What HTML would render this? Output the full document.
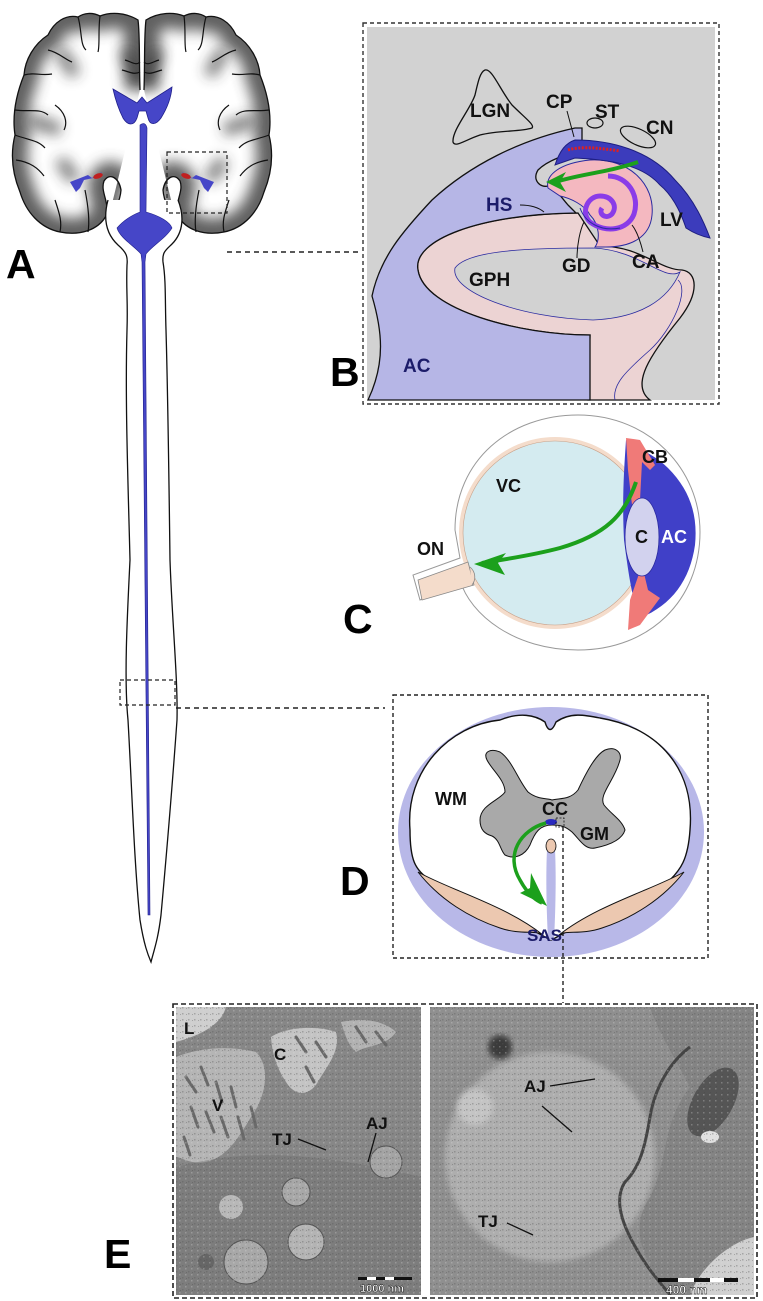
<!DOCTYPE html>
<html><head><meta charset="utf-8"><style>
html,body{margin:0;padding:0;background:#fff;}
svg{display:block;}
text{font-family:"Liberation Sans",Arial,sans-serif;font-weight:bold;}
</style></head><body>
<svg width="763" height="1301" viewBox="0 0 763 1301" xmlns="http://www.w3.org/2000/svg">
<defs>
<filter id="blur8" x="-20%" y="-20%" width="140%" height="140%"><feGaussianBlur stdDeviation="7"/></filter>
<clipPath id="lh"><path d="M140,90 C139,60 140,35 138,20 C125,12 110,12 100,16 C92,12 84,13 78,17 C66,14 54,22 48,35 C34,44 25,60 24,75 C16,95 12,115 15,135 C10,155 13,175 20,192 C26,212 40,228 60,232 C80,236 98,230 106,216 C110,202 100,192 104,181 C110,172 119,178 121,190 C120,204 112,214 108,220 Z"/></clipPath>
<filter id="soft"><feGaussianBlur stdDeviation="3"/></filter>
<pattern id="grain" width="6" height="6" patternUnits="userSpaceOnUse">
<rect x="0" y="0" width="1.5" height="1.5" fill="#555" opacity="0.35"/><rect x="3" y="3" width="1.5" height="1.5" fill="#ddd" opacity="0.3"/><rect x="4" y="1" width="1" height="1" fill="#444" opacity="0.3"/>
</pattern>
</defs>

<!-- ===== Panel A: brain ===== -->
<g id="brain">
  <g>
    <path d="M140,90 C139,60 140,35 138,20 C125,12 110,12 100,16 C92,12 84,13 78,17 C66,14 54,22 48,35 C34,44 25,60 24,75 C16,95 12,115 15,135 C10,155 13,175 20,192 C26,212 40,228 60,232 C80,236 98,230 106,216 C110,202 100,192 104,181 C110,172 119,178 121,190 C120,204 112,214 108,220 Z" fill="#fff"/>
    <g clip-path="url(#lh)"><path d="M140,90 C139,60 140,35 138,20 C125,12 110,12 100,16 C92,12 84,13 78,17 C66,14 54,22 48,35 C34,44 25,60 24,75 C16,95 12,115 15,135 C10,155 13,175 20,192 C26,212 40,228 60,232 C80,236 98,230 106,216 C110,202 100,192 104,181 C110,172 119,178 121,190" fill="none" stroke="#444" stroke-width="30" filter="url(#blur8)" opacity="0.85"/>
    <g stroke="#333" stroke-width="12" filter="url(#blur8)" opacity="0.7"><line x1="60" y1="50" x2="75" y2="75"/><line x1="30" y1="120" x2="60" y2="130"/><line x1="60" y1="160" x2="75" y2="180"/><line x1="125" y1="50" x2="140" y2="80"/></g></g>
    <path d="M140,90 C139,60 140,35 138,20 C125,12 110,12 100,16 C92,12 84,13 78,17 C66,14 54,22 48,35 C34,44 25,60 24,75 C16,95 12,115 15,135 C10,155 13,175 20,192 C26,212 40,228 60,232 C80,236 98,230 106,216 C110,202 100,192 104,181 C110,172 119,178 121,190 C120,204 112,214 108,220" fill="none" stroke="#111" stroke-width="1.3"/>
    <g fill="none" stroke="#111" stroke-width="1.2">
      <path d="M100,16 C98,30 100,45 98,52"/><path d="M78,17 C82,30 80,45 86,50"/>
      <path d="M48,50 C58,52 66,60 72,62"/><path d="M24,75 C35,72 40,76 52,74"/>
      <path d="M15,110 C28,112 40,108 48,115"/><path d="M55,105 C65,112 68,122 64,130"/>
      <path d="M15,135 C28,140 38,140 45,148"/><path d="M16,160 C30,162 38,168 44,176"/>
      <path d="M55,200 C60,215 62,222 60,232"/><path d="M85,190 C88,205 90,220 88,232"/>
      <path d="M125,60 C132,62 136,66 140,62"/><path d="M122,70 C130,72 134,75 140,72"/>
    </g>
  </g>
  <g transform="translate(284,0) scale(-1,1)">
    <path d="M140,90 C139,60 140,35 138,20 C125,12 110,12 100,16 C92,12 84,13 78,17 C66,14 54,22 48,35 C34,44 25,60 24,75 C16,95 12,115 15,135 C10,155 13,175 20,192 C26,212 40,228 60,232 C80,236 98,230 106,216 C110,202 100,192 104,181 C110,172 119,178 121,190 C120,204 112,214 108,220 Z" fill="#fff"/>
    <g clip-path="url(#lh)"><path d="M140,90 C139,60 140,35 138,20 C125,12 110,12 100,16 C92,12 84,13 78,17 C66,14 54,22 48,35 C34,44 25,60 24,75 C16,95 12,115 15,135 C10,155 13,175 20,192 C26,212 40,228 60,232 C80,236 98,230 106,216 C110,202 100,192 104,181 C110,172 119,178 121,190" fill="none" stroke="#444" stroke-width="30" filter="url(#blur8)" opacity="0.85"/>
    <g stroke="#333" stroke-width="12" filter="url(#blur8)" opacity="0.7"><line x1="60" y1="50" x2="75" y2="75"/><line x1="30" y1="120" x2="60" y2="130"/><line x1="60" y1="160" x2="75" y2="180"/><line x1="125" y1="50" x2="140" y2="80"/></g></g>
    <path d="M140,90 C139,60 140,35 138,20 C125,12 110,12 100,16 C92,12 84,13 78,17 C66,14 54,22 48,35 C34,44 25,60 24,75 C16,95 12,115 15,135 C10,155 13,175 20,192 C26,212 40,228 60,232 C80,236 98,230 106,216 C110,202 100,192 104,181 C110,172 119,178 121,190 C120,204 112,214 108,220" fill="none" stroke="#111" stroke-width="1.3"/>
    <g fill="none" stroke="#111" stroke-width="1.2">
      <path d="M100,16 C98,30 100,45 98,52"/><path d="M78,17 C82,30 80,45 86,50"/>
      <path d="M48,50 C58,52 66,60 72,62"/><path d="M24,75 C35,72 40,76 52,74"/>
      <path d="M15,110 C28,112 40,108 48,115"/><path d="M55,105 C65,112 68,122 64,130"/>
      <path d="M15,135 C28,140 38,140 45,148"/><path d="M16,160 C30,162 38,168 44,176"/>
      <path d="M55,200 C60,215 62,222 60,232"/><path d="M85,190 C88,205 90,220 88,232"/>
      <path d="M125,60 C132,62 136,66 140,62"/><path d="M122,70 C130,72 134,75 140,72"/>
    </g>
  </g>
  <path d="M108,200 C104,215 104,232 118,245 C126,252 128,256 127,265 C126,290 128,300 127,330 C125,400 128,480 130,560 C127,620 124,680 128,720 C132,790 134,860 140,920 C144,945 148,955 151,962 C154,950 158,940 161,915 C166,860 172,790 177,720 C178,680 172,620 170,560 C169,480 168,400 166,330 C165,300 166,280 163,262 C162,252 166,250 172,244 C184,232 184,215 178,200" fill="#fff" stroke="#111" stroke-width="1.3"/>
  <path d="M113,89 L137,103 L142,97 L147,103 L172,87 C171,100 166,110 161,118 C156,125 150,126 148,118 L146,111 L139,111 L137,118 C134,126 128,126 123,118 C118,108 115,98 113,89 Z" fill="#4646c8" stroke="#20208a" stroke-width="0.8"/>
  <path d="M140,125 C144,122 146,124 147,128 L146,212 C160,216 170,222 172,228 C166,238 152,246 146,254 L145,262 L150,915 L148,915 L142,262 L141,254 C134,246 120,238 117,228 C122,222 130,216 140,212 Z" fill="#4646c8" stroke="#20208a" stroke-width="0.6"/>
  <path d="M70,182 L88,175 L92,178 L102,172 L98,177 L84,180 L80,188 L76,192 Z" fill="#4646c8"/>
  <ellipse cx="98" cy="176" rx="5" ry="2.5" fill="#c02020" transform="rotate(-20 98 176)"/>
  <path d="M214,182 L196,175 L192,178 L182,172 L186,177 L200,180 L204,188 L208,192 Z" fill="#4646c8"/>
  <ellipse cx="186" cy="176" rx="5" ry="2.5" fill="#c02020" transform="rotate(20 186 176)"/>
  <rect x="167" y="152" width="60" height="61" fill="none" stroke="#222" stroke-width="1.2" stroke-dasharray="4,3"/>
  <line x1="227" y1="252" x2="360" y2="252" stroke="#222" stroke-width="1.5" stroke-dasharray="5,4"/>
  <rect x="120" y="680" width="55" height="25" fill="none" stroke="#222" stroke-width="1.2" stroke-dasharray="4,3"/>
  <line x1="176" y1="708" x2="385" y2="708" stroke="#222" stroke-width="1.5" stroke-dasharray="5,4"/>
  <text x="6" y="278" font-size="41">A</text>
</g>

<!-- ===== Panel B ===== -->
<g>
  <rect x="367" y="27" width="348" height="373" fill="#d2d2d2"/>
  <path d="M578,213 C480,214 412,240 418,270 C424,310 520,335 590,335 L588,400 L650,400 C630,385 650,355 680,318 C700,292 697,272 682,270 C660,270 640,246 600,246 Z" fill="#ecd3d3" stroke="#111" stroke-width="1.3"/>
  <path d="M593,248 C530,248 468,250 455,268 C450,292 520,318 593,320 C640,318 668,300 680,272 C664,282 640,250 593,248 Z" fill="#d2d2d2" stroke="#2a2aa0" stroke-width="0.8"/>
  <path d="M678,280 C690,290 672,330 650,350 C625,372 612,385 615,400" fill="none" stroke="#2a2aa0" stroke-width="0.8"/>
  <path d="M368,400 C386,362 382,330 372,296 C380,258 402,232 432,200 C470,165 520,140 575,128 L582,128 L582,150 C565,155 548,160 538,170 C532,180 540,188 548,186 C556,188 560,196 568,205 L576,213 C480,214 412,240 418,270 C424,310 520,335 590,335 L590,400 Z" fill="#b6b6e6" stroke="#111" stroke-width="1.3"/>
  <path d="M548,188 C545,175 560,163 590,160 C630,158 655,185 652,215 C650,238 630,247 606,247 L595,247 C600,240 600,225 590,215 C585,205 570,198 560,196 Z" fill="#f4b8c0" stroke="#2a2aa0" stroke-width="1"/>
  <path d="M608,176 C628,176 640,196 634,214 C628,230 606,234 590,222 C580,212 588,196 600,196 C612,196 618,206 612,214 C606,220 598,214 602,208" fill="none" stroke="#8a3ce8" stroke-width="5"/>
  <path d="M580,208 C585,222 600,232 620,228" fill="none" stroke="#2a2aa0" stroke-width="1"/>
  <path d="M555,165 C560,150 566,143 575,140 C610,140 650,150 675,180 C695,200 705,225 710,238 C700,236 692,232 686,228 C680,210 672,195 660,185 C645,168 620,160 575,158 Z" fill="#3c3cbc" stroke="#1e1e80" stroke-width="1"/>
  <path d="M568,150 C580,146 600,148 620,151" fill="none" stroke="#e02020" stroke-width="3" stroke-dasharray="2,1.5"/>
  <path d="M485,70 C492,68 500,90 512,105 C525,118 535,125 532,128 C520,132 500,130 480,135 C465,140 455,148 453,142 C452,130 470,110 475,95 C478,82 480,72 485,70 Z" fill="none" stroke="#111" stroke-width="1.3"/>
  <ellipse cx="595" cy="123" rx="8" ry="5" fill="none" stroke="#111" stroke-width="1.2"/>
  <ellipse cx="638" cy="137" rx="19" ry="8" fill="none" stroke="#111" stroke-width="1.2" transform="rotate(25 638 137)"/>
  <path d="M638,162 C610,172 575,175 556,182" fill="none" stroke="#1ca01c" stroke-width="4"/>
  <path d="M546,182 L566,172 L560,182 L566,192 Z" fill="#1ca01c"/>
  <g stroke="#111" stroke-width="1" fill="none">
    <path d="M567,111 L574,137"/><path d="M520,205 C530,205 538,207 544,212"/>
    <path d="M577,258 C577,245 580,230 584,222"/><path d="M643,252 C640,240 636,230 632,225"/>
  </g>
  <text x="470" y="117" font-size="19" fill="#111">LGN</text>
  <text x="546" y="108" font-size="19" fill="#111">CP</text>
  <text x="595" y="118" font-size="19" fill="#111">ST</text>
  <text x="646" y="134" font-size="19" fill="#111">CN</text>
  <text x="486" y="211" font-size="19" fill="#1c1c6a">HS</text>
  <text x="660" y="226" font-size="19" fill="#111">LV</text>
  <text x="562" y="272" font-size="19" fill="#111">GD</text>
  <text x="632" y="268" font-size="19" fill="#111">CA</text>
  <text x="469" y="286" font-size="19" fill="#111">GPH</text>
  <text x="403" y="372" font-size="19" fill="#1c1c6a">AC</text>
  <rect x="363" y="23" width="356" height="381" fill="none" stroke="#333" stroke-width="1.4" stroke-dasharray="4,3"/>
  <text x="330" y="386" font-size="41">B</text>
</g>

<!-- ===== Panel C ===== -->
<g>
  <path d="M455,530 C455,460 510,415 578,415 C650,415 700,470 700,532 C700,600 650,650 578,650 C515,650 470,615 460,580 L420,600 L413,575 L460,558 Z" fill="#fff" stroke="#999" stroke-width="1"/>
  <circle cx="555" cy="533" r="96" fill="#f4dccb"/>
  <circle cx="555" cy="533" r="92" fill="#d4ebf0" stroke="#c8a088" stroke-width="0.6"/>
  <path d="M418,580 L468,562 L474,585 L422,600 Z" fill="#f4dccb" stroke="#888" stroke-width="0.8"/>
  <path d="M470,567 C476,572 476,580 472,585" fill="#f4dccb" stroke="#888" stroke-width="0.8"/>
  <path d="M626,440 C640,450 655,455 668,468 C690,490 698,515 695,545 C690,580 672,605 640,618 C632,600 628,570 624,540 C622,500 624,470 626,440 Z" fill="#4040c8"/>
  <path d="M626,438 L640,440 L655,465 L650,470 L642,462 L640,500 L632,505 L628,470 Z" fill="#f07a78"/>
  <path d="M630,600 L642,565 L648,590 L660,598 L640,625 L628,630 Z" fill="#f07a78"/>
  <ellipse cx="642" cy="537" rx="17" ry="39" fill="#d2d2ee" stroke="#2a2aa0" stroke-width="0.8"/>
  <path d="M636,482 C625,515 605,535 560,548 C530,556 500,560 482,563" fill="none" stroke="#1ca01c" stroke-width="4"/>
  <path d="M474,564 L506,553 L498,563 L505,575 Z" fill="#1ca01c"/>
  <text x="496" y="492" font-size="18" fill="#111">VC</text>
  <text x="417" y="555" font-size="18" fill="#111">ON</text>
  <text x="642" y="463" font-size="18" fill="#111">CB</text>
  <text x="635" y="543" font-size="18" fill="#111">C</text>
  <text x="661" y="543" font-size="18" fill="#fff">AC</text>
  <text x="343" y="633" font-size="41">C</text>
</g>

<!-- ===== Panel D ===== -->
<g>
  <ellipse cx="551" cy="832" rx="153" ry="125" fill="#b8b8e8"/>
  <path d="M410,830 C405,770 450,725 500,720 C520,712 535,715 545,722 C548,732 552,732 556,722 C570,712 585,715 600,718 C660,728 695,770 690,830 C688,860 680,870 670,880 C640,900 600,910 570,930 C560,935 552,940 551,940 C550,940 542,935 532,930 C500,910 460,900 430,880 C415,870 410,860 410,830 Z" fill="#fff" stroke="#111" stroke-width="1.4"/>
  <path d="M418,872 C450,890 505,905 543,935 C538,930 520,935 500,928 C470,918 440,900 418,872 Z" fill="#ecc8b0" stroke="#111" stroke-width="1"/>
  <path d="M684,872 C652,890 597,905 559,935 C564,930 582,935 602,928 C632,918 662,900 684,872 Z" fill="#ecc8b0" stroke="#111" stroke-width="1"/>
  <path d="M548,940 C546,900 546,870 547,850 L555,850 C556,870 556,900 554,940 Z" fill="#b8b8e8"/>
  <ellipse cx="551" cy="846" rx="5" ry="7" fill="#ecc8b0" stroke="#111" stroke-width="0.8"/>
  <path d="M487,760 C483,752 490,748 500,752 C512,760 518,780 528,792 C538,800 548,798 552,800 C560,798 570,800 578,790 C585,775 595,755 605,750 C615,746 622,752 620,760 C615,780 598,795 604,805 C612,815 622,820 625,830 C622,840 610,845 595,848 C585,850 580,840 572,832 C565,826 560,825 552,825 C540,825 535,832 530,845 C525,855 515,860 505,855 C500,850 500,840 492,836 C485,834 480,830 480,820 C480,805 500,800 505,792 C505,780 492,770 487,760 Z" fill="#a9a9a9" stroke="#111" stroke-width="1"/>
  <ellipse cx="551" cy="822" rx="6" ry="3" fill="#2a2ac0"/>
  <rect x="556" y="818" width="8" height="9" fill="none" stroke="#111" stroke-width="0.8" stroke-dasharray="2,1.5"/>
  <path d="M546,823 C520,830 505,855 520,880 C527,893 535,900 542,903" fill="none" stroke="#1ca01c" stroke-width="3.5"/>
  <path d="M547,906 L520,893 L530,888 L531,873 Z" fill="#1ca01c"/>
  <text x="435" y="805" font-size="18" fill="#111">WM</text>
  <text x="542" y="815" font-size="18" fill="#111">CC</text>
  <text x="580" y="840" font-size="18" fill="#111">GM</text>
  <text x="527" y="941" font-size="17" fill="#1c1c6a">SAS</text>
  <rect x="393" y="695" width="315" height="263" fill="none" stroke="#222" stroke-width="1.4" stroke-dasharray="4,3"/>
  <line x1="563" y1="827" x2="563" y2="1003" stroke="#222" stroke-width="1.4" stroke-dasharray="4,3"/>
  <text x="340" y="895" font-size="41">D</text>
</g>

<!-- ===== Panel E ===== -->
<g>
  <rect x="173" y="1004" width="584" height="294" fill="#fff" stroke="#222" stroke-width="1.6" stroke-dasharray="5,3"/>
  <svg x="176" y="1007" width="245" height="288">
    <rect width="245" height="288" fill="#878787"/>
    <path d="M0,0 L50,0 C45,18 25,28 0,35 Z" fill="#cfcfcf"/>
    <path d="M0,50 C30,38 60,40 80,45 C95,60 90,90 75,110 C60,135 50,150 30,155 C15,158 5,150 0,150 Z" fill="#b5b5b5"/>
    <path d="M95,30 C110,20 140,18 160,25 C165,45 150,60 140,78 C130,90 118,88 110,75 C100,60 96,45 95,30 Z" fill="#c4c4c4"/>
    <path d="M165,15 C190,10 210,15 220,25 C210,40 190,38 180,45 C172,38 168,25 165,15 Z" fill="#b2b2b2"/>
    <g stroke="#6a6a6a" stroke-width="3" stroke-linecap="round">
      <line x1="10" y1="70" x2="20" y2="85"/><line x1="25" y1="60" x2="32" y2="78"/><line x1="40" y1="75" x2="46" y2="95"/><line x1="55" y1="80" x2="60" y2="100"/><line x1="15" y1="100" x2="22" y2="120"/><line x1="30" y1="105" x2="38" y2="125"/><line x1="45" y1="110" x2="52" y2="130"/><line x1="62" y1="110" x2="68" y2="132"/><line x1="75" y1="100" x2="80" y2="120"/><line x1="8" y1="130" x2="14" y2="148"/><line x1="120" y1="30" x2="130" y2="45"/><line x1="140" y1="35" x2="150" y2="50"/><line x1="130" y1="60" x2="138" y2="75"/><line x1="180" y1="20" x2="190" y2="35"/><line x1="200" y1="25" x2="210" y2="38"/>
    </g>
    <path d="M0,160 C60,145 120,140 245,170 L245,288 L0,288 Z" fill="#6e6e6e" opacity="0.4"/>
    <circle cx="55" cy="200" r="12" fill="#b8b8b8"/><circle cx="120" cy="185" r="14" fill="#a8a8a8" stroke="#555"/>
    <circle cx="210" cy="155" r="16" fill="#a4a4a4" stroke="#555"/><circle cx="70" cy="255" r="22" fill="#a8a8a8" stroke="#555"/>
    <circle cx="130" cy="235" r="18" fill="#b4b4b4" stroke="#555"/><circle cx="30" cy="255" r="8" fill="#666"/>
    <rect width="245" height="288" fill="url(#grain)"/>
    <rect x="182" y="270" width="54" height="3" fill="#111"/><rect x="191" y="270" width="9" height="3" fill="#fff"/><rect x="209" y="270" width="9" height="3" fill="#fff"/>
    <text x="184" y="285" font-size="11" font-weight="normal" fill="#fff" stroke="#000" stroke-width="0.4">1000 nm</text>
    <text x="8" y="27" font-size="17" fill="#111">L</text>
    <text x="98" y="53" font-size="17" fill="#111">C</text>
    <text x="36" y="104" font-size="17" fill="#111">V</text>
    <text x="96" y="138" font-size="17" fill="#111">TJ</text>
    <text x="190" y="122" font-size="17" fill="#111">AJ</text>
    <g stroke="#111" stroke-width="1.3"><line x1="122" y1="132" x2="150" y2="143"/><line x1="200" y1="126" x2="192" y2="155"/></g>
  </svg>
  <svg x="430" y="1007" width="324" height="288">
    <rect width="324" height="288" fill="#8f8f8f"/>
    <ellipse cx="120" cy="150" rx="105" ry="105" fill="#aeaeae" filter="url(#soft)"/>
    <path d="M220,0 L324,0 L324,288 L240,288 C210,250 200,220 220,190 C240,150 230,120 260,80 C245,50 230,30 220,0 Z" fill="#848484"/>
    <ellipse cx="283" cy="95" rx="20" ry="38" fill="#555" transform="rotate(30 283 95)"/>
    <ellipse cx="280" cy="130" rx="9" ry="6" fill="#e0e0e0"/>
    <path d="M260,288 C270,260 300,235 324,230 L324,288 Z" fill="#d0d0d0"/>
    <path d="M260,40 C240,55 225,80 220,110 C215,140 210,160 195,175 C185,190 190,210 200,230 C215,260 230,275 240,288" fill="none" stroke="#444" stroke-width="3"/>
    <circle cx="70" cy="40" r="12" fill="#3a3a3a" filter="url(#soft)"/>
    <circle cx="45" cy="100" r="18" fill="#c4c4c4" filter="url(#soft)"/>
    <rect width="324" height="288" fill="url(#grain)"/>
    <rect x="228" y="271" width="80" height="4" fill="#111"/><rect x="248" y="271" width="16" height="4" fill="#fff"/><rect x="280" y="271" width="14" height="4" fill="#fff"/>
    <text x="236" y="287" font-size="12" font-weight="normal" fill="#fff" stroke="#000" stroke-width="0.4">400 nm</text>
    <text x="94" y="85" font-size="17" fill="#111">AJ</text>
    <text x="48" y="220" font-size="17" fill="#111">TJ</text>
    <g stroke="#111" stroke-width="1.3"><line x1="120" y1="79" x2="165" y2="72"/><line x1="112" y1="99" x2="142" y2="125"/><line x1="77" y1="216" x2="103" y2="228"/></g>
  </svg>
  <text x="104" y="1268" font-size="41">E</text>
</g>
</svg>
</body></html>
